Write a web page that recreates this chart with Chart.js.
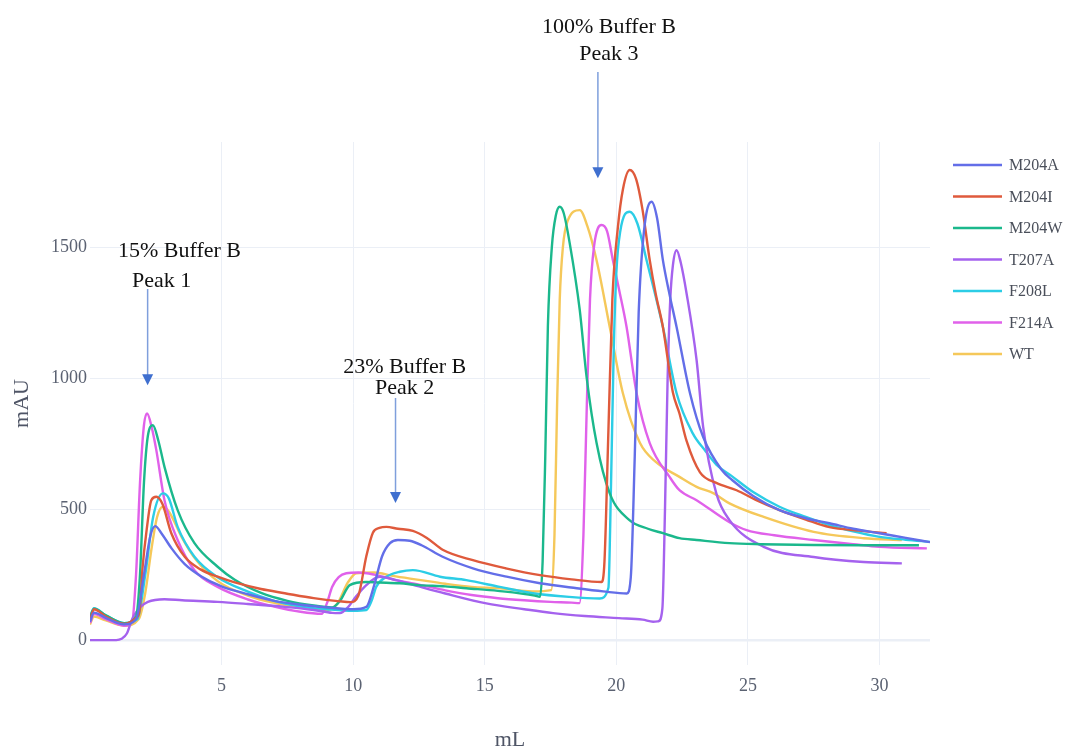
<!DOCTYPE html>
<html>
<head>
<meta charset="utf-8">
<script src="https://cdn.jsdelivr.net/npm/chart.js@4.4.1/dist/chart.umd.min.js"></script>
<style>
  html, body { margin: 0; padding: 0; background: #fff; }
  #myChart { display: block; }
</style>
</head>
<body>
<canvas id="myChart" width="1076" height="751"></canvas>
<script>
// series names and colours
const seriesNames = ['M204A', 'M204I', 'M204W', 'T207A', 'F208L', 'F214A', 'WT'];
const seriesColors = ['#636ee8', '#df5a3c', '#1bb88c', '#a562ee', '#2ccde6', '#e061ea', '#f5c85a'];

// [mL, mAU]
const m204a = [[0,70],[0.15,105],[0.6,85],[1.3,60],[1.75,80],[2.05,250],[2.3,400],[2.48,435],[2.7,410],[3.1,350],[3.6,290],[4.2,245],[5,205],[6,175],[7,150],[8,135],[9,125],[10,118],[10.5,127],[10.8,210],[11.1,320],[11.4,370],[11.7,382],[12.15,379],[12.6,362],[13.4,318],[14.55,274],[15.83,242],[17.1,217],[18.5,198],[19.5,186],[20.4,178],[20.55,240],[20.7,700],[20.85,1250],[21.05,1560],[21.34,1673],[21.55,1610],[21.77,1450],[22.0,1330],[22.29,1195],[22.8,942],[23.3,775],[24.0,650],[24.4,611],[25.2,550],[26.2,496],[27.2,465],[28.1,446],[29,425],[30,408],[31,390],[31.92,374]];
const m204i = [[0,75],[0.15,118],[0.6,90],[1.3,62],[1.75,85],[1.88,110],[2.0,280],[2.14,410],[2.33,534],[2.52,547],[2.75,520],[3.09,408],[3.6,318],[4.2,270],[4.85,242],[5.5,220],[6.5,195],[7.4,179],[8.5,160],[9.5,148],[9.9,145],[10.2,170],[10.5,320],[10.75,410],[11.0,428],[11.26,432],[11.7,425],[12.27,417],[12.8,390],[13.4,345],[14.55,305],[15.8,274],[17.1,248],[18.3,232],[19.44,222],[19.55,300],[19.7,800],[19.85,1300],[20.06,1576],[20.25,1720],[20.51,1794],[20.75,1760],[21.0,1640],[21.27,1450],[21.5,1320],[21.77,1195],[22.15,945],[22.4,865],[22.67,760],[23.18,640],[23.8,600],[24.57,572],[25.3,535],[26.2,496],[27.2,460],[28.1,431],[29.2,418],[30.27,408]];
const m204w = [[0,85],[0.15,120],[0.6,95],[1.3,65],[1.75,90],[1.9,250],[2.05,600],[2.2,780],[2.39,820],[2.6,760],[2.83,661],[3.33,496],[3.97,370],[4.85,280],[5.5,230],[6.5,180],[7.5,150],[8.5,132],[9.2,125],[9.5,150],[9.87,210],[10.5,222],[11.0,220],[11.77,217],[12.5,210],[13.5,205],[14.3,198],[15.5,188],[16.9,170],[17.1,165],[17.2,300],[17.3,700],[17.4,1200],[17.55,1500],[17.7,1620],[17.85,1654],[18.0,1630],[18.23,1514],[18.61,1260],[18.87,1005],[19.25,752],[19.75,560],[20.5,458],[21.2,425],[21.77,408],[22.4,389],[23.05,382],[24.3,370],[25.5,366],[27.5,363],[29.5,362],[31.5,362]];
const t207a = [[0,0],[1.0,0],[1.2,5],[1.4,25],[1.6,80],[1.9,125],[2.2,146],[2.83,156],[3.5,152],[4.85,146],[6,138],[7.4,127],[8.5,115],[9.2,104],[9.5,103],[9.8,125],[10.1,165],[10.5,210],[11.0,242],[11.64,229],[12.5,205],[13.5,178],[15.06,140],[16.5,118],[17.6,103],[18.8,92],[20.1,84],[21.0,78],[21.4,70],[21.6,72],[21.75,120],[21.85,500],[21.95,1000],[22.05,1300],[22.15,1430],[22.29,1488],[22.45,1440],[22.67,1323],[23.05,1069],[23.3,814],[23.8,560],[24.3,458],[25.6,356],[27.5,317],[29.4,298],[30.85,293]];
const f208l = [[0,90],[0.15,122],[0.6,95],[1.3,65],[1.8,80],[2.1,250],[2.4,470],[2.77,560],[3.0,540],[3.33,432],[3.97,318],[4.85,240],[6,185],[7,150],[8,128],[9,118],[10,112],[10.5,115],[10.7,150],[10.88,204],[11.26,242],[11.77,261],[12.27,267],[13.3,242],[14.3,229],[15.57,203],[16.83,179],[18.2,165],[19.37,159],[19.7,200],[19.8,600],[19.9,1100],[20.0,1400],[20.15,1560],[20.51,1635],[20.8,1590],[21.15,1450],[21.77,1195],[22.29,942],[22.9,790],[23.4,720],[23.8,670],[24.4,625],[25.2,565],[26.2,509],[27.2,470],[28.1,439],[29,415],[30,394],[31,383],[31.92,375]];
const f214a = [[0,65],[0.15,100],[0.6,80],[1.3,55],[1.6,70],[1.75,250],[1.9,600],[2.05,820],[2.17,865],[2.35,810],[2.52,725],[2.83,534],[3.33,382],[3.97,267],[4.85,203],[6,155],[7,128],[8,108],[8.8,100],[9.0,140],[9.2,203],[9.45,240],[9.74,255],[10.2,258],[10.8,250],[11.5,232],[12.5,212],[13.5,190],[14.5,172],[15.5,160],[16.5,152],[17.5,146],[18.3,143],[18.6,141],[18.75,400],[18.88,900],[19.0,1300],[19.15,1500],[19.44,1584],[19.65,1560],[19.87,1450],[20.1,1340],[20.39,1195],[20.77,942],[21.27,752],[22.03,622],[22.4,572],[23.05,534],[24.3,450],[24.95,420],[26,400],[27.5,382],[29,366],[30,356],[31.8,350]];
const wt = [[0,60],[0.15,90],[0.6,75],[1.3,55],[1.85,80],[2.1,180],[2.33,344],[2.55,470],[2.77,509],[3.0,490],[3.5,390],[4.0,310],[4.85,225],[6,170],[7,142],[8,125],[9,115],[9.4,140],[9.8,220],[10.12,255],[10.8,258],[11.5,245],[12.5,230],[13.5,215],[14.5,203],[15.57,198],[16.8,186],[17.53,191],[17.65,400],[17.75,900],[17.85,1300],[17.97,1500],[18.15,1600],[18.61,1641],[18.9,1580],[19.25,1450],[19.75,1195],[20.25,942],[20.9,752],[21.5,680],[22.4,623],[23.05,585],[23.7,560],[24.3,522],[25.6,470],[27.5,413],[29.4,389],[30.85,382]];
const seriesData = [m204a, m204i, m204w, t207a, f208l, f214a, wt];

// axis ticks
const xTicks = [5, 10, 15, 20, 25, 30];
const yTicks = [0, 500, 1000, 1500];

// arrow labels (data coordinates)
const notes = [
  { lines: ['15% Buffer B', 'Peak 1'], tx: [3.4, 2.72], ty: [1485, 1370], ax: 2.19, from: 1340, to: 973 },
  { lines: ['23% Buffer B', 'Peak 2'], tx: [11.96, 11.96], ty: [1042, 962], ax: 11.61, from: 924, to: 523 },
  { lines: ['100% Buffer B', 'Peak 3'], tx: [19.72, 19.72], ty: [2340, 2237], ax: 19.3, from: 2168, to: 1763 }
];

const serif = '"Liberation Serif", "Times New Roman", serif';

const notePlugin = {
  id: 'notes',
  afterDraw(chart) {
    const ctx = chart.ctx, xs = chart.scales.x, ys = chart.scales.y;
    ctx.save();
    notes.forEach(n => {
      ctx.fillStyle = '#111';
      ctx.font = '22px ' + serif;
      ctx.textAlign = 'center';
      ctx.textBaseline = 'middle';
      n.lines.forEach((t, i) => ctx.fillText(t, xs.getPixelForValue(n.tx[i]), ys.getPixelForValue(n.ty[i])));
      const px = xs.getPixelForValue(n.ax);
      const y1 = ys.getPixelForValue(n.from), y2 = ys.getPixelForValue(n.to);
      ctx.strokeStyle = '#7f9fdc';
      ctx.lineWidth = 1.5;
      ctx.beginPath();
      ctx.moveTo(px, y1);
      ctx.lineTo(px, y2 - 10);
      ctx.stroke();
      ctx.fillStyle = '#3f6fcf';
      ctx.beginPath();
      ctx.moveTo(px - 5.5, y2 - 11);
      ctx.lineTo(px + 5.5, y2 - 11);
      ctx.lineTo(px, y2);
      ctx.closePath();
      ctx.fill();
    });

    // legend
    ctx.font = '16px ' + serif;
    ctx.textAlign = 'left';
    ctx.textBaseline = 'middle';
    chart.data.datasets.forEach((d, i) => {
      const y = 165 + i * 31.5;
      ctx.strokeStyle = d.borderColor;
      ctx.lineWidth = 2.5;
      ctx.beginPath();
      ctx.moveTo(953, y);
      ctx.lineTo(1002, y);
      ctx.stroke();
      ctx.fillStyle = '#4a4f5a';
      ctx.fillText(d.label, 1009, y + 1);
    });
    ctx.restore();
  }
};

const datasets = seriesNames.map((name, i) => ({
  label: name,
  data: seriesData[i].map(p => ({ x: p[0], y: p[1] })),
  borderColor: seriesColors[i],
  backgroundColor: seriesColors[i],
  borderWidth: 2.4,
  pointRadius: 0,
  fill: false,
  cubicInterpolationMode: 'monotone'
}));

const ctx = document.getElementById('myChart').getContext('2d');
const myChart = new Chart(ctx, {
  type: 'line',
  data: { datasets: datasets },
  options: {
    responsive: false,
    animation: false,
    devicePixelRatio: 1,
    layout: { padding: { top: 142, right: 146, left: 0, bottom: 0 } },
    plugins: { legend: { display: false }, tooltip: { enabled: false } },
    scales: {
      x: {
        type: 'linear',
        min: 0,
        max: 31.92,
        afterBuildTicks: s => { s.ticks = xTicks.map(v => ({ value: v })); },
        afterFit: s => { s.height = 86; },
        grid: { color: '#ebeff6', lineWidth: 1, drawTicks: false },
        border: { display: false },
        ticks: { color: '#5b6272', font: { family: serif, size: 18 }, padding: 10, maxRotation: 0, callback: v => String(v) },
        title: { display: true, text: 'mL', color: '#4f5566', font: { family: serif, size: 22, lineHeight: 1 }, padding: { top: 0, bottom: 0 } }
      },
      y: {
        type: 'linear',
        min: -95,
        max: 1901,
        afterBuildTicks: s => { s.ticks = yTicks.map(v => ({ value: v })); },
        afterFit: s => { s.width = 90; },
        grid: { color: '#ebeff6', lineWidth: c => (c.tick && c.tick.value === 0 ? 2.5 : 1), drawTicks: false },
        border: { display: false },
        ticks: { color: '#5b6272', font: { family: serif, size: 18 }, padding: 3, callback: v => String(v) },
        title: { display: true, text: 'mAU', color: '#4f5566', font: { family: serif, size: 22, lineHeight: 1 }, padding: { top: 11, bottom: 0 } }
      }
    }
  },
  plugins: [notePlugin]
});
</script>
</body>
</html>
